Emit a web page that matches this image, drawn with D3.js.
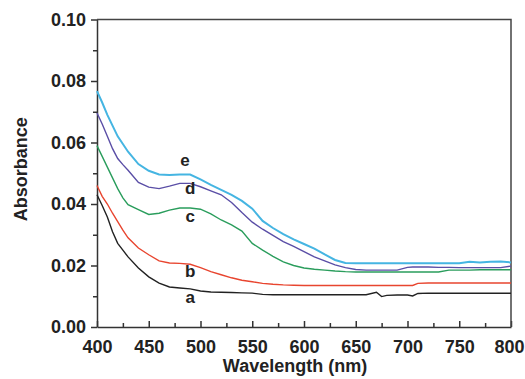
<!DOCTYPE html>
<html>
<head>
<meta charset="utf-8">
<script src="https://cdn.jsdelivr.net/npm/d3@7"></script>
<style>
  body { margin: 0; background: #fff; }
  text { font-family: "Liberation Sans", Arial, sans-serif; font-weight: bold; fill: #222; }
</style>
</head>
<body>
<svg id="chart" width="525" height="379"></svg>
<script>
// wavelength grid (nm) shared by every spectrum
const wavelengths = [400, 405, 410, 415, 420, 425, 430, 440, 450, 460, 470, 480, 490, 500, 510, 520, 530, 540, 550, 560, 570, 580, 590, 600, 610, 620, 630, 640, 650, 660, 670, 675, 680, 690, 700, 705, 710, 720, 730, 740, 750, 760, 770, 780, 790, 800];

const seriesA = [0.0430, 0.0395, 0.0358, 0.0310, 0.0272, 0.0250, 0.0228, 0.0192, 0.0163, 0.0143, 0.0130, 0.0127, 0.0124, 0.0117, 0.0114, 0.0113, 0.0112, 0.0111, 0.0110, 0.0106, 0.0105, 0.0105, 0.0105, 0.0105, 0.0105, 0.0105, 0.0105, 0.0105, 0.0105, 0.0105, 0.0113, 0.0099, 0.0103, 0.0104, 0.0104, 0.0101, 0.0109, 0.0110, 0.0110, 0.0110, 0.0110, 0.0110, 0.0110, 0.0110, 0.0110, 0.0110];
const seriesB = [0.0460, 0.0425, 0.0400, 0.0370, 0.0343, 0.0315, 0.0290, 0.0257, 0.0235, 0.0215, 0.0208, 0.0207, 0.0204, 0.0193, 0.0180, 0.0170, 0.0160, 0.0152, 0.0147, 0.0142, 0.0139, 0.0137, 0.0136, 0.0135, 0.0135, 0.0135, 0.0135, 0.0135, 0.0135, 0.0135, 0.0135, 0.0135, 0.0135, 0.0135, 0.0135, 0.0135, 0.0142, 0.0143, 0.0143, 0.0143, 0.0143, 0.0143, 0.0143, 0.0143, 0.0143, 0.0143];
const seriesC = [0.0590, 0.0555, 0.0520, 0.0485, 0.0450, 0.0420, 0.0398, 0.0382, 0.0366, 0.0370, 0.0380, 0.0387, 0.0387, 0.0383, 0.0368, 0.0348, 0.0332, 0.0312, 0.0272, 0.0250, 0.0230, 0.0212, 0.0200, 0.0192, 0.0188, 0.0185, 0.0182, 0.0180, 0.0179, 0.0179, 0.0179, 0.0179, 0.0179, 0.0179, 0.0179, 0.0179, 0.0179, 0.0179, 0.0179, 0.0185, 0.0185, 0.0185, 0.0186, 0.0186, 0.0186, 0.0186];
const seriesD = [0.0696, 0.0660, 0.0620, 0.0580, 0.0548, 0.0528, 0.0510, 0.0470, 0.0455, 0.0450, 0.0458, 0.0467, 0.0467, 0.0456, 0.0443, 0.0430, 0.0405, 0.0372, 0.0341, 0.0318, 0.0298, 0.0278, 0.0262, 0.0245, 0.0228, 0.0215, 0.0202, 0.0193, 0.0187, 0.0185, 0.0185, 0.0185, 0.0185, 0.0185, 0.0194, 0.0195, 0.0195, 0.0195, 0.0194, 0.0194, 0.0193, 0.0193, 0.0193, 0.0193, 0.0193, 0.0198];
const seriesE = [0.0767, 0.0730, 0.0690, 0.0655, 0.0620, 0.0595, 0.0570, 0.0530, 0.0508, 0.0496, 0.0494, 0.0496, 0.0496, 0.0480, 0.0462, 0.0446, 0.0430, 0.0410, 0.0385, 0.0345, 0.0322, 0.0302, 0.0285, 0.0270, 0.0255, 0.0236, 0.0218, 0.0208, 0.0207, 0.0207, 0.0207, 0.0207, 0.0207, 0.0207, 0.0207, 0.0207, 0.0207, 0.0207, 0.0207, 0.0207, 0.0207, 0.0212, 0.0210, 0.0212, 0.0213, 0.0210];

const seriesNames = ["a", "b", "c", "d", "e"];
const seriesColors = ["#222222", "#e8452f", "#2a9d5c", "#5a4ea6", "#45b5e2"];
const seriesValues = [seriesA, seriesB, seriesC, seriesD, seriesE];
// where the letter sits on each curve (nm, absorbance)
const labelPos = [[490, 0.0078], [490, 0.0163], [490, 0.0343], [490, 0.0431], [485, 0.0525]];

const xTicks = [400, 450, 500, 550, 600, 650, 700, 750, 800];
const yTicks = [0.00, 0.02, 0.04, 0.06, 0.08, 0.10];

const margin = { top: 19.5, right: 14, bottom: 52, left: 97 };
const width = 525 - margin.left - margin.right;
const height = 379 - margin.top - margin.bottom;

const svg = d3.select("#chart")
  .append("g")
  .attr("transform", "translate(" + margin.left + "," + margin.top + ")");

const x = d3.scaleLinear().domain([400, 800]).range([0, width]);
const y = d3.scaleLinear().domain([0, 0.1]).range([height, 0]);

// minor ticks
svg.append("g")
  .attr("transform", "translate(0," + height + ")")
  .call(d3.axisBottom(x).tickValues(d3.range(425, 800, 50)).tickSize(-4).tickFormat(""))
  .call(g => g.select(".domain").remove());
svg.append("g")
  .call(d3.axisLeft(y).tickValues(d3.range(0.01, 0.1, 0.02)).tickSize(4).tickFormat(""))
  .call(g => g.select(".domain").remove());

// X axis
svg.append("g")
  .attr("transform", "translate(0," + height + ")")
  .call(d3.axisBottom(x).tickValues(xTicks).tickSize(-6).tickSizeOuter(0).tickPadding(13).tickFormat(d3.format("d")))
  .call(g => g.selectAll("text").style("font-size", "18px"))
  .call(g => g.selectAll(".tick text").filter(d => d === 800).attr("dx", -2));

// Y axis
svg.append("g")
  .call(d3.axisLeft(y).tickValues(yTicks).tickSize(6).tickSizeOuter(0).tickPadding(5).tickFormat(d3.format(".2f")))
  .call(g => g.selectAll("text").style("font-size", "18px"));

svg.selectAll(".domain, .tick line").attr("stroke", "#333").attr("stroke-width", 1.5);

// top and right frame
svg.append("path")
  .attr("d", "M0,0H" + width + "V" + height)
  .attr("fill", "none")
  .attr("stroke", "#444")
  .attr("stroke-width", 1.5);

// spectra
const line = d3.line()
  .x((d, i) => x(wavelengths[i]))
  .y(d => y(d));

svg.selectAll(".spectrum")
  .data(seriesValues)
  .enter()
  .append("path")
  .attr("class", "spectrum")
  .attr("fill", "none")
  .attr("stroke", (d, i) => seriesColors[i])
  .attr("stroke-width", (d, i) => i === 4 ? 2 : 1.4)
  .attr("d", line);

// curve letters
svg.selectAll(".curve-label")
  .data(seriesNames)
  .enter()
  .append("text")
  .attr("class", "curve-label")
  .attr("x", (d, i) => x(labelPos[i][0]))
  .attr("y", (d, i) => y(labelPos[i][1]))
  .attr("text-anchor", "middle")
  .style("font-size", "17px")
  .text(d => d);

// axis titles
svg.append("text")
  .attr("x", 198)
  .attr("y", height + 45)
  .attr("text-anchor", "middle")
  .style("font-size", "18px")
  .text("Wavelength (nm)");

svg.append("text")
  .attr("transform", "translate(-70," + (height / 2 - 4) + ") rotate(-90)")
  .attr("text-anchor", "middle")
  .style("font-size", "18px")
  .text("Absorbance");
</script>
</body>
</html>
